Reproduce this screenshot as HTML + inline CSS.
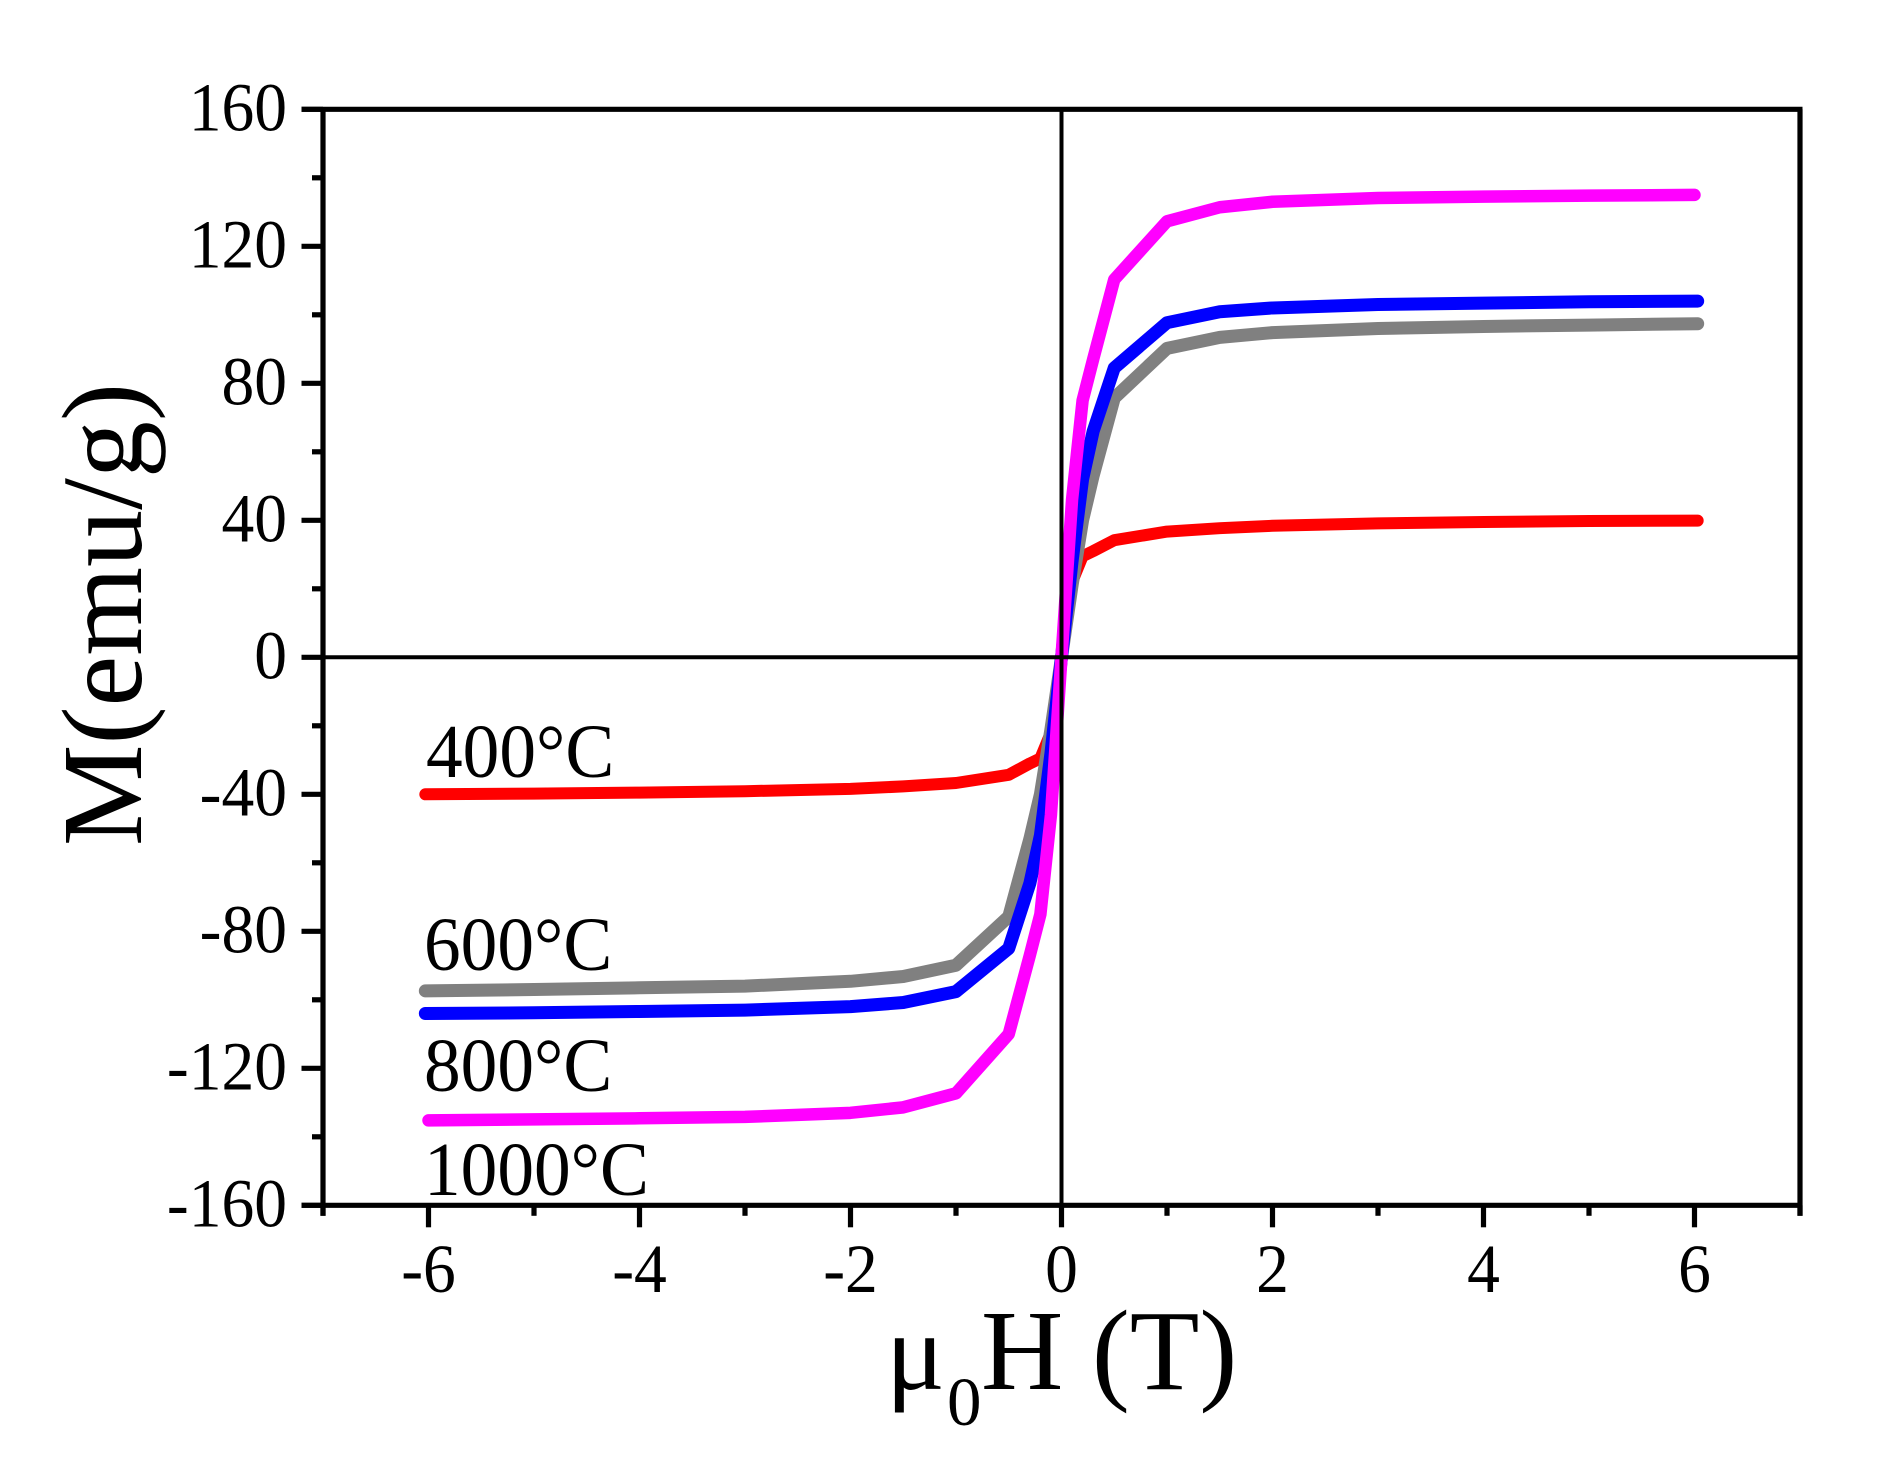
<!DOCTYPE html>
<html lang="en">
<head>
<meta charset="utf-8">
<title>Magnetization curves</title>
<style>
html,body{margin:0;padding:0;background:#fff;}
svg{display:block;}
text{font-family:"Liberation Serif",serif;fill:#000;}
</style>
</head>
<body>
<svg id="chart" xmlns="http://www.w3.org/2000/svg" width="1877" height="1457" viewBox="0 0 1877 1457">
  <rect x="0" y="0" width="1877" height="1457" fill="#ffffff"/>
  <g id="series-layer"></g>
  <g id="axis-layer"></g>
  <g id="tick-label-layer"></g>
  <text transform="translate(141,846) rotate(-90)" font-size="114" textLength="463" lengthAdjust="spacingAndGlyphs">M(emu/g)</text>
  <text font-size="114"><tspan x="886" y="1389" font-size="110">μ</tspan><tspan x="947" y="1425" font-size="69">0</tspan><tspan x="981" y="1389">H (T)</tspan></text>
  <text transform="translate(426,777) scale(.965,1)" font-size="76">400°C</text>
  <text transform="translate(424,970) scale(.965,1)" font-size="76">600°C</text>
  <text transform="translate(424,1091) scale(.965,1)" font-size="76">800°C</text>
  <text transform="translate(424,1195) scale(.965,1)" font-size="76">1000°C</text>
</svg>
<script>
// Applied field (T)
const fieldWide = [-6.03,-5,-4,-3,-2,-1.5,-1,-0.5,-0.3,-0.2,-0.1,0,0.1,0.2,0.3,0.5,1,1.5,2,3,4,5,6.03];
const fieldNarrow = [-6,-5,-4,-3,-2,-1.5,-1,-0.5,-0.3,-0.2,-0.1,0,0.1,0.2,0.3,0.5,1,1.5,2,3,4,5,6];
// Magnetization (emu/g)
const m400 = [-40,-39.8,-39.5,-39.1,-38.4,-37.7,-36.7,-34.3,-31,-29.5,-22,0,22,29.5,31,34.2,36.7,37.7,38.4,39.1,39.5,39.8,39.9];
const m600 = [-97.4,-97,-96.5,-96,-94.6,-93.2,-89.9,-75.7,-53,-40,-21,0,21,40,53,75.7,90.2,93.4,94.8,96,96.6,97,97.4];
const m800 = [-104,-103.8,-103.4,-103,-102,-100.8,-97.6,-85,-66,-52,-28,0,28,52,66,84.5,97.7,100.9,102,103,103.4,103.8,104];
const m1000 = [-135.2,-134.9,-134.6,-134.2,-133,-131.4,-127.3,-110,-87,-75,-46,0,46,75,87,110.3,127.3,131.4,133,134.1,134.5,134.8,135];
// Ticks
const xMajorTicks = [-6,-4,-2,0,2,4,6];
const xMinorTicks = [-7,-5,-3,-1,1,3,5,7];
const xTickLabels = ['-6','-4','-2','0','2','4','6'];
const yMajorTicks = [160,120,80,40,0,-40,-80,-120,-160];
const yMinorTicks = [140,100,60,20,-20,-60,-100,-140];
const yTickLabels = ['160','120','80','40','0','-40','-80','-120','-160'];

const NS = 'http://www.w3.org/2000/svg';
const plotLeft = 323, plotRight = 1800, plotTop = 109.3, plotBottom = 1205.3;
const xMin = -7, xMax = 7, yMin = -160, yMax = 160;
function sx(v){ return plotLeft + (v - xMin) / (xMax - xMin) * (plotRight - plotLeft); }
function sy(v){ return plotBottom - (v - yMin) / (yMax - yMin) * (plotBottom - plotTop); }

const seriesLayer = document.getElementById('series-layer');
const axisLayer = document.getElementById('axis-layer');
const labelLayer = document.getElementById('tick-label-layer');

function drawLine(x1, y1, x2, y2, w, cap){
  const l = document.createElementNS(NS, 'line');
  l.setAttribute('x1', x1);
  l.setAttribute('y1', y1);
  l.setAttribute('x2', x2);
  l.setAttribute('y2', y2);
  l.setAttribute('stroke', '#000');
  l.setAttribute('stroke-width', w);
  l.setAttribute('stroke-linecap', cap || 'butt');
  axisLayer.appendChild(l);
  return l;
}
function drawSeries(xs, ys, color, width, name){
  const p = document.createElementNS(NS, 'polyline');
  
  
  p.setAttribute('points', xs.map(function(x, i){ return sx(x).toFixed(2) + ',' + sy(ys[i]).toFixed(2); }).join(' '));
  p.setAttribute('fill', 'none');
  p.setAttribute('stroke', color);
  p.setAttribute('stroke-width', width);
  p.setAttribute('stroke-linecap', 'round');
  p.setAttribute('stroke-linejoin', 'round');
  seriesLayer.appendChild(p);
}
function drawLabel(text, x, y, anchor){
  const t = document.createElementNS(NS, 'text');
  t.setAttribute('transform', 'translate(' + x + ',' + y + ') scale(.95,1)');
  t.setAttribute('font-size', '69');
  t.setAttribute('text-anchor', anchor);
  t.textContent = text;
  labelLayer.appendChild(t);
  return t;
}

// Zero lines
const zeroH = drawLine(plotLeft, sy(0), plotRight, sy(0), 4);


const zeroV = drawLine(sx(0), plotTop, sx(0), plotBottom, 4);



// Series, drawn back to front
drawSeries(fieldWide, m400, '#ff0000', 12, 'series-400c');
drawSeries(fieldWide, m600, '#808080', 13, 'series-600c');
drawSeries(fieldWide, m800, '#0000ff', 13, 'series-800c');
drawSeries(fieldNarrow, m1000, '#ff00ff', 12.5, 'series-1000c');

// Frame
const frameTop = drawLine(plotLeft - 21.5, plotTop, plotRight + 2.5, plotTop, 5.2);


const frameRight = drawLine(plotRight, plotTop, plotRight, plotBottom + 10.5, 5.2);


const frameBottom = drawLine(plotLeft - 21.5, plotBottom, plotRight + 2.5, plotBottom, 5.2);


const frameLeft = drawLine(plotLeft, plotTop, plotLeft, plotBottom + 10.5, 5.2);



// X ticks
xMajorTicks.forEach(function(v, i){
  const tick = drawLine(sx(v), plotBottom, sx(v), plotBottom + 22, 5.2);
  
  
  const label = drawLabel(xTickLabels[i], sx(v), 1292, 'middle');
  
  
});
xMinorTicks.forEach(function(v){
  const tick = drawLine(sx(v), plotBottom, sx(v), plotBottom + 10.5, 5.2);
  
  
});

// Y ticks
yMajorTicks.forEach(function(v, i){
  const tick = drawLine(plotLeft - 21.5, sy(v), plotLeft, sy(v), 5.2);
  
  
  const label = drawLabel(yTickLabels[i], 287, sy(v) + 21, 'end');
  
  
});
yMinorTicks.forEach(function(v){
  const tick = drawLine(plotLeft - 11, sy(v), plotLeft, sy(v), 5.2);
  
  
});
</script>
</body>
</html>
